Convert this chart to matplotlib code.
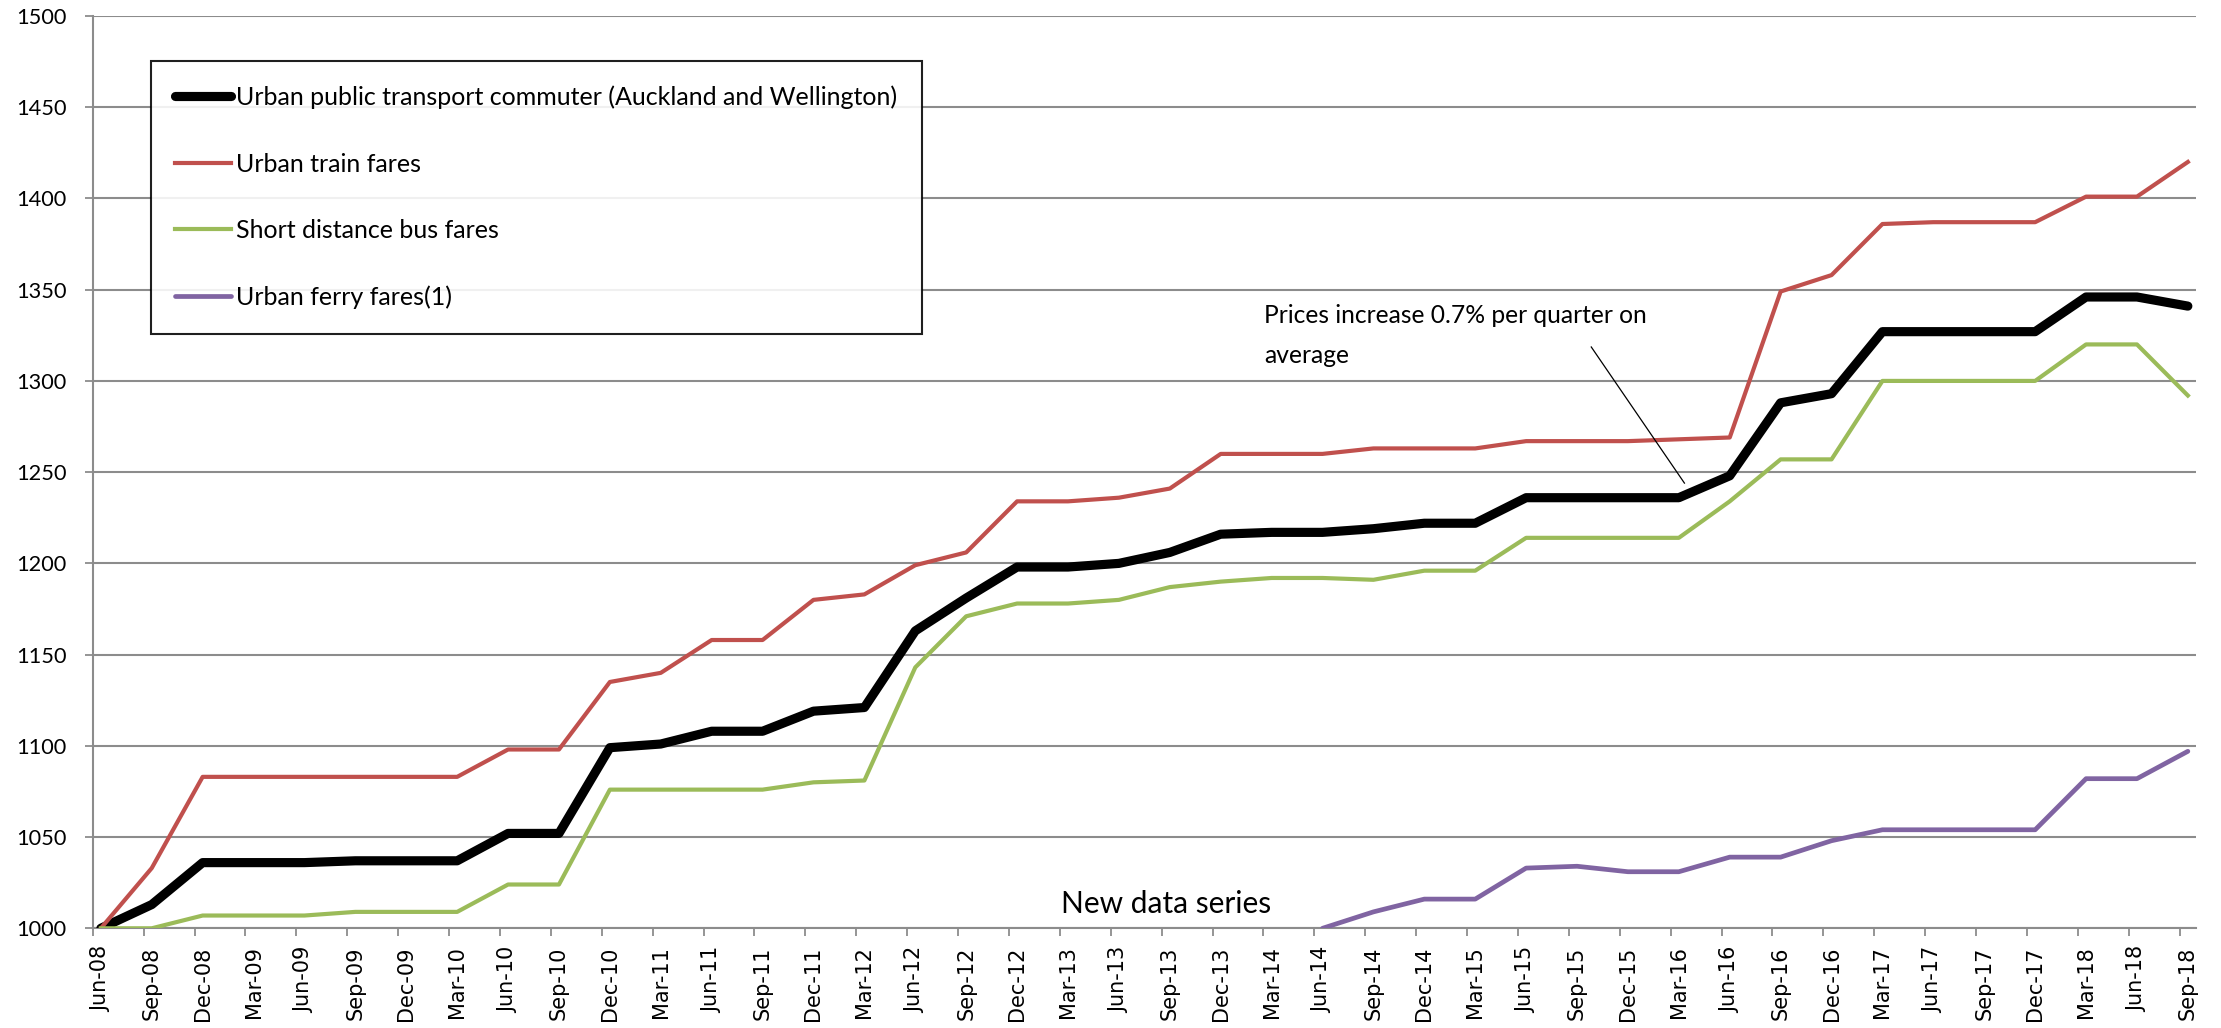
import numpy as np
import matplotlib
matplotlib.use('Agg')
import matplotlib.pyplot as plt
from matplotlib.ticker import FixedLocator

nan = np.nan

quarters = ['Jun-08', 'Sep-08', 'Dec-08', 'Mar-09', 'Jun-09', 'Sep-09', 'Dec-09',
            'Mar-10', 'Jun-10', 'Sep-10', 'Dec-10', 'Mar-11', 'Jun-11', 'Sep-11',
            'Dec-11', 'Mar-12', 'Jun-12', 'Sep-12', 'Dec-12', 'Mar-13', 'Jun-13',
            'Sep-13', 'Dec-13', 'Mar-14', 'Jun-14', 'Sep-14', 'Dec-14', 'Mar-15',
            'Jun-15', 'Sep-15', 'Dec-15', 'Mar-16', 'Jun-16', 'Sep-16', 'Dec-16',
            'Mar-17', 'Jun-17', 'Sep-17', 'Dec-17', 'Mar-18', 'Jun-18', 'Sep-18']

commuter = [1000, 1013, 1036, 1036, 1036, 1037, 1037, 1037, 1052, 1052, 1099, 1101,
            1108, 1108, 1119, 1121, 1163, 1181, 1198, 1198, 1200, 1206, 1216, 1217,
            1217, 1219, 1222, 1222, 1236, 1236, 1236, 1236, 1248, 1288, 1293, 1327,
            1327, 1327, 1327, 1346, 1346, 1341]

train = [1000, 1033, 1083, 1083, 1083, 1083, 1083, 1083, 1098, 1098, 1135, 1140,
         1158, 1158, 1180, 1183, 1199, 1206, 1234, 1234, 1236, 1241, 1260, 1260,
         1260, 1263, 1263, 1263, 1267, 1267, 1267, 1268, 1269, 1349, 1358, 1386,
         1387, 1387, 1387, 1401, 1401, 1420]

bus = [1000, 1000, 1007, 1007, 1007, 1009, 1009, 1009, 1024, 1024, 1076, 1076,
       1076, 1076, 1080, 1081, 1143, 1171, 1178, 1178, 1180, 1187, 1190, 1192,
       1192, 1191, 1196, 1196, 1214, 1214, 1214, 1214, 1234, 1257, 1257, 1300,
       1300, 1300, 1300, 1320, 1320, 1292]

ferry = [nan] * 24 + [1000, 1009, 1016, 1016, 1033, 1034, 1031, 1031, 1039, 1039,
                      1048, 1054, 1054, 1054, 1054, 1082, 1082, 1097]

series_names = ['Urban public transport commuter (Auckland and Wellington)',
                'Urban train fares', 'Short distance bus fares', 'Urban ferry fares(1)']

note_text = 'Prices increase 0.7% per quarter on\naverage'
new_series_text = 'New data series'

grid_col = '#8c8c8c'
text_font = ['Lato', 'DejaVu Sans']

W, H = 2221, 1028
fig = plt.figure(figsize=(W / 100, H / 100), dpi=100, facecolor='white')
ax = fig.add_axes([92.7 / W, 1 - 928.3 / H, (2196 - 92.7) / W, (928.3 - 16) / H])

x = np.arange(len(quarters))
ax.plot(x, commuter, color='black', lw=6.6, solid_capstyle='round', solid_joinstyle='round',
        label=series_names[0], zorder=3)
ax.plot(x, train, color='#C0504D', lw=3.0, solid_joinstyle='round', label=series_names[1], zorder=4)
ax.plot(x, bus, color='#9BBB59', lw=3.0, solid_joinstyle='round', label=series_names[2], zorder=5)
ax.plot(x, ferry, color='#8064A2', lw=3.4, solid_joinstyle='round', solid_capstyle='round',
        label=series_names[3], zorder=5)

ax.set_xlim(-0.16, len(quarters) - 1 + 0.16)
ax.set_ylim(1000, 1500)
ax.set_yticks(np.arange(1000, 1501, 50))
ax.grid(True, axis='y', color=grid_col, lw=1.5, zorder=0)
ax.set_axisbelow(True)

ax.set_xticks(x)
ax.set_xticklabels(quarters, rotation=90, fontsize=15, family='DejaVu Sans')
ax.xaxis.set_minor_locator(FixedLocator(x - 0.16))
ax.tick_params(axis='x', which='major', length=0, pad=13)
ax.tick_params(axis='x', which='minor', length=5.8, width=1.3, color=grid_col, direction='out')
ax.tick_params(axis='y', length=5.8, width=1.3, color=grid_col, pad=13, labelsize=15.7)
for lab in ax.get_yticklabels():
    lab.set_family(text_font)

for s in ['top', 'right']:
    ax.spines[s].set_visible(False)
for s in ['left', 'bottom']:
    ax.spines[s].set_color(grid_col)
    ax.spines[s].set_linewidth(1.5)

# pointer from the note down to the commuter line
ax.plot([29.28, 31.11], [1318.6, 1244.0], color='black', lw=0.9, zorder=6)
ax.text(22.86, 1342, note_text, fontsize=17.7, family=text_font, va='top', ha='left',
        linespacing=1.9, zorder=7)
ax.text(18.87, 1008.5, new_series_text, fontsize=21.5, family=text_font, va='baseline', ha='left',
        zorder=7)

leg = ax.legend(loc='upper left', bbox_to_anchor=(150.5 / W, 1 - 61 / H),
                bbox_transform=fig.transFigure, borderaxespad=0, fancybox=False,
                edgecolor='black', framealpha=0.88, handlelength=2.25, handletextpad=0.2,
                labelspacing=1.74, borderpad=0.98, prop={'family': text_font, 'size': 18})
leg.get_frame().set_linewidth(1.5)
leg.set_zorder(10)

fig.savefig('out.png', dpi=100, facecolor='white')
